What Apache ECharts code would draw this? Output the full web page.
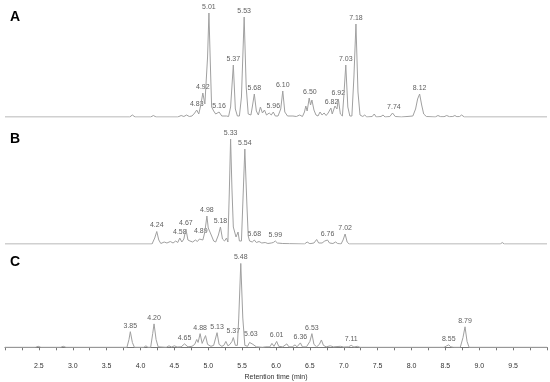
<!DOCTYPE html>
<html>
<head>
<meta charset="utf-8">
<script src="https://cdn.jsdelivr.net/npm/echarts@6/dist/echarts.min.js"></script>
<style>
html, body { margin: 0; padding: 0; background: #fff; }
#main { width: 550px; height: 382px; }
</style>
</head>
<body>
<div id="main"></div>
<script>
// 色谱图 A / B / C，[保留时间 min, 强度]
var traceA = [
	[2.0,0],[3.84,0],[3.88,2],[3.92,0],[4.15,0],[4.19,1.5],[4.23,0],[4.55,0],[4.6,1.5],[4.64,0.5],[4.68,2],[4.72,0.5],
	[4.76,1],[4.80,4],[4.83,7],[4.86,3],[4.89,12],[4.92,24],[4.95,13],[4.97,14],[4.99,60],[5.01,104],[5.03,55],[5.05,10],
	[5.08,6],[5.11,3],[5.16,5],[5.20,1],[5.27,1],[5.30,0.5],[5.33,10],[5.37,52],[5.40,8],[5.43,1],[5.46,1],[5.49,20],
	[5.53,100],[5.56,30],[5.59,3],[5.63,2],[5.65,10],[5.68,23],[5.71,6],[5.74,2],[5.77,10],[5.80,4],[5.83,7],[5.86,2],
	[5.90,4],[5.93,2],[5.96,5],[5.99,1],[6.03,1],[6.07,8],[6.10,26],[6.13,5],[6.17,1],[6.25,1],[6.30,0.5],[6.35,2],
	[6.39,0.5],[6.42,5],[6.44,11],[6.46,6],[6.49,19],[6.51,12],[6.53,17],[6.56,7],[6.59,2],[6.62,1],[6.65,5],[6.68,2],
	[6.71,4],[6.74,1.5],[6.77,4],[6.81,9],[6.83,3],[6.85,5],[6.87,11],[6.90,8],[6.92,18],[6.95,3],[6.98,1],[7.00,20],
	[7.03,52],[7.06,10],[7.09,1],[7.12,1],[7.15,40],[7.18,93],[7.21,25],[7.24,2],[7.28,0.5],[7.31,2],[7.34,0],[7.42,0.5],
	[7.45,3],[7.48,0],[7.55,0.5],[7.58,2],[7.61,0],[7.68,0.5],[7.72,4],[7.76,0.5],[7.85,0],[8.02,1],[8.06,8],[8.09,18],
	[8.12,23],[8.15,12],[8.18,3],[8.22,0.5],[8.35,0],[8.39,1.5],[8.43,0.3],[8.48,0.3],[8.52,1.5],[8.56,0.3],[8.61,0.5],
	[8.64,1.5],[8.67,0.3],[8.71,0.5],[8.74,2],[8.78,0],[10,0]
];
var traceB = [
	[2.0,0],[4.17,0],[4.21,6],[4.24,12.5],[4.27,4],[4.30,0.5],[4.35,2],[4.39,1],[4.44,2.5],[4.48,1],[4.52,3],[4.55,1.5],
	[4.58,6],[4.61,2],[4.64,5],[4.67,15],[4.70,4],[4.73,3],[4.77,2],[4.81,4],[4.84,2.5],[4.87,5],[4.89,7],[4.92,4],
	[4.95,12],[4.98,28],[5.00,16],[5.02,18],[5.05,8],[5.08,3],[5.11,2],[5.15,9],[5.18,17],[5.21,5],[5.24,3],[5.27,6],
	[5.29,2],[5.31,50],[5.33,105],[5.35,55],[5.37,17],[5.39,15],[5.41,7],[5.44,12],[5.46,3],[5.49,3],[5.51,40],[5.54,95],
	[5.57,40],[5.59,8],[5.61,3],[5.65,2],[5.68,4],[5.71,1.5],[5.75,2.5],[5.79,1],[5.84,1.5],[5.88,0.5],[5.93,1],[5.96,1.5],
	[5.99,3],[6.02,1],[6.10,0.5],[6.20,0.3],[6.42,0],[6.46,2],[6.50,0.3],[6.56,1],[6.60,4.5],[6.63,1],[6.68,1],[6.72,3],
	[6.76,4],[6.79,1],[6.84,0.5],[6.88,2],[6.91,0.5],[6.96,0],[6.99,4],[7.02,10],[7.05,2],[7.08,0],[9.31,0],[9.34,1.5],
	[9.37,0],[10,0]
];
var traceC = [
	[2.0,0],[2.45,0],[2.49,1],[2.53,0],[2.82,0],[2.86,1],[2.90,0],[3.80,0],[3.83,8],[3.85,16],[3.88,5],[3.91,0],
	[4.05,0],[4.08,1.5],[4.11,0],[4.15,0],[4.18,14],[4.20,24],[4.23,8],[4.26,0.5],[4.38,0],[4.42,1.5],[4.46,0.3],
	[4.50,1.5],[4.54,0.3],[4.60,0.5],[4.65,3.5],[4.70,0.5],[4.76,1],[4.80,3],[4.83,8],[4.85,5],[4.88,14],[4.91,4],
	[4.93,3],[4.96,12],[4.99,3],[5.04,1],[5.08,2],[5.13,15],[5.16,3],[5.20,1],[5.23,2],[5.26,6],[5.29,1.5],[5.32,3],
	[5.35,6],[5.37,10],[5.40,2],[5.43,2],[5.45,30],[5.48,86],[5.51,30],[5.54,2],[5.58,1],[5.61,5],[5.63,7],[5.66,3],
	[5.68,3.5],[5.71,0.5],[5.80,0],[5.85,0.5],[5.91,0.5],[5.94,4],[5.97,1],[5.99,2],[6.01,6],[6.04,1],[6.10,0.5],
	[6.16,3.5],[6.19,0.5],[6.24,0.5],[6.28,2.5],[6.31,0.5],[6.36,4.5],[6.39,0.5],[6.45,0.5],[6.50,6],[6.53,14],[6.56,3],
	[6.60,0.5],[6.64,3],[6.67,7.5],[6.70,2],[6.74,0.5],[6.80,1.5],[6.85,0.5],[6.95,1],[7.00,0.3],[7.07,0.5],[7.11,2],
	[7.15,0.3],[7.20,1],[7.24,0],[8.48,0],[8.52,1.5],[8.55,2.5],[8.58,0.5],[8.62,0],[8.72,0],[8.76,10],[8.79,21],
	[8.82,6],[8.85,0],[10,0]
];

// 标注的峰 [保留时间, 峰高]
var peaksA = [[4.83,7],[4.92,24],[5.01,104],[5.16,5],[5.37,52],[5.53,100],[5.68,23],[5.96,5],[6.10,26],
	[6.50,19],[6.82,9],[6.92,18],[7.03,52],[7.18,93],[7.74,4],[8.12,23]];
var peaksB = [[4.24,12.5],[4.58,6],[4.67,15],[4.89,7],[4.98,28],[5.18,17],[5.33,105],[5.54,95],[5.68,4],
	[5.99,3],[6.76,4],[7.02,10]];
var peaksC = [[3.85,16],[4.20,24],[4.65,3.5],[4.88,14],[5.13,15],[5.37,10],[5.48,86],[5.63,7],[6.01,6],
	[6.36,4.5],[6.53,14],[7.11,2],[8.55,2.5],[8.79,21]];

var panelNames = ['A', 'B', 'C'];
var xTicks = { min: 2, max: 10, interval: 0.5 };

var lineColor = '#a0a0a0';
var fontName = 'Liberation Sans, Arial, sans-serif';

function traceSeries(data, idx) {
	return {
		type: 'line',
		xAxisIndex: idx,
		yAxisIndex: idx,
		data: data,
		symbol: 'none',
		smooth: false,
		silent: true,
		lineStyle: { color: lineColor, width: 1 }
	};
}

function peakSeries(data, idx) {
	return {
		type: 'scatter',
		xAxisIndex: idx,
		yAxisIndex: idx,
		data: data,
		symbolSize: 1,
		silent: true,
		itemStyle: { color: 'rgba(0,0,0,0)' },
		label: {
			show: true,
			position: 'top',
			distance: 2,
			color: '#333',
			fontSize: 7,
			fontFamily: fontName,
			formatter: function (p) {
				return p.value[0].toFixed(2);
			}
		}
	};
}

var myChart = echarts.init(document.getElementById('main'));

var hiddenX = function (idx) {
	return {
		type: 'value', gridIndex: idx, min: xTicks.min, max: xTicks.max, show: false
	};
};

var option = {
	animation: false,
	backgroundColor: '#fff',
	grid: [
		{ left: 5, right: 3, top: 10, height: 107 },
		{ left: 5, right: 3, top: 136, height: 108 },
		{ left: 5, right: 3, top: 242, height: 120 }
	],
	xAxis: [
		hiddenX(0),
		hiddenX(1),
		{
			type: 'value',
			gridIndex: 2,
			min: xTicks.min,
			max: xTicks.max,
			interval: xTicks.interval,
			name: 'Retention time (min)',
			nameLocation: 'middle',
			nameGap: 15,
			nameTextStyle: { color: '#333', fontSize: 7, fontFamily: fontName },
			splitLine: { show: false },
			axisLine: { show: true, lineStyle: { color: '#777', width: 1 } },
			axisTick: { show: true, length: 3, lineStyle: { color: '#777' } },
			minorTick: { show: true, splitNumber: 2, length: 3, lineStyle: { color: '#777' } },
			axisLabel: {
				color: '#333', fontSize: 7, fontFamily: fontName, margin: 4,
				showMinLabel: false, showMaxLabel: false,
				formatter: function (v) { return v.toFixed(1); }
			}
		}
	],
	yAxis: [
		{ type: 'value', gridIndex: 0, min: 0, max: 107, show: false },
		{ type: 'value', gridIndex: 1, min: 0, max: 108, show: false },
		{ type: 'value', gridIndex: 2, min: -12, max: 108, show: false }
	],
	graphic: [
		{ type: 'text', left: 10, top: 10, style: { text: panelNames[0], fontSize: 14, fontWeight: 'bold', fontFamily: fontName, fill: '#000' } },
		{ type: 'text', left: 10, top: 132, style: { text: panelNames[1], fontSize: 14, fontWeight: 'bold', fontFamily: fontName, fill: '#000' } },
		{ type: 'text', left: 10, top: 255, style: { text: panelNames[2], fontSize: 14, fontWeight: 'bold', fontFamily: fontName, fill: '#000' } }
	],
	series: [
		traceSeries(traceA, 0),
		traceSeries(traceB, 1),
		traceSeries(traceC, 2),
		peakSeries(peaksA, 0),
		peakSeries(peaksB, 1),
		peakSeries(peaksC, 2)
	]
};

myChart.setOption(option);
</script>
</body>
</html>
